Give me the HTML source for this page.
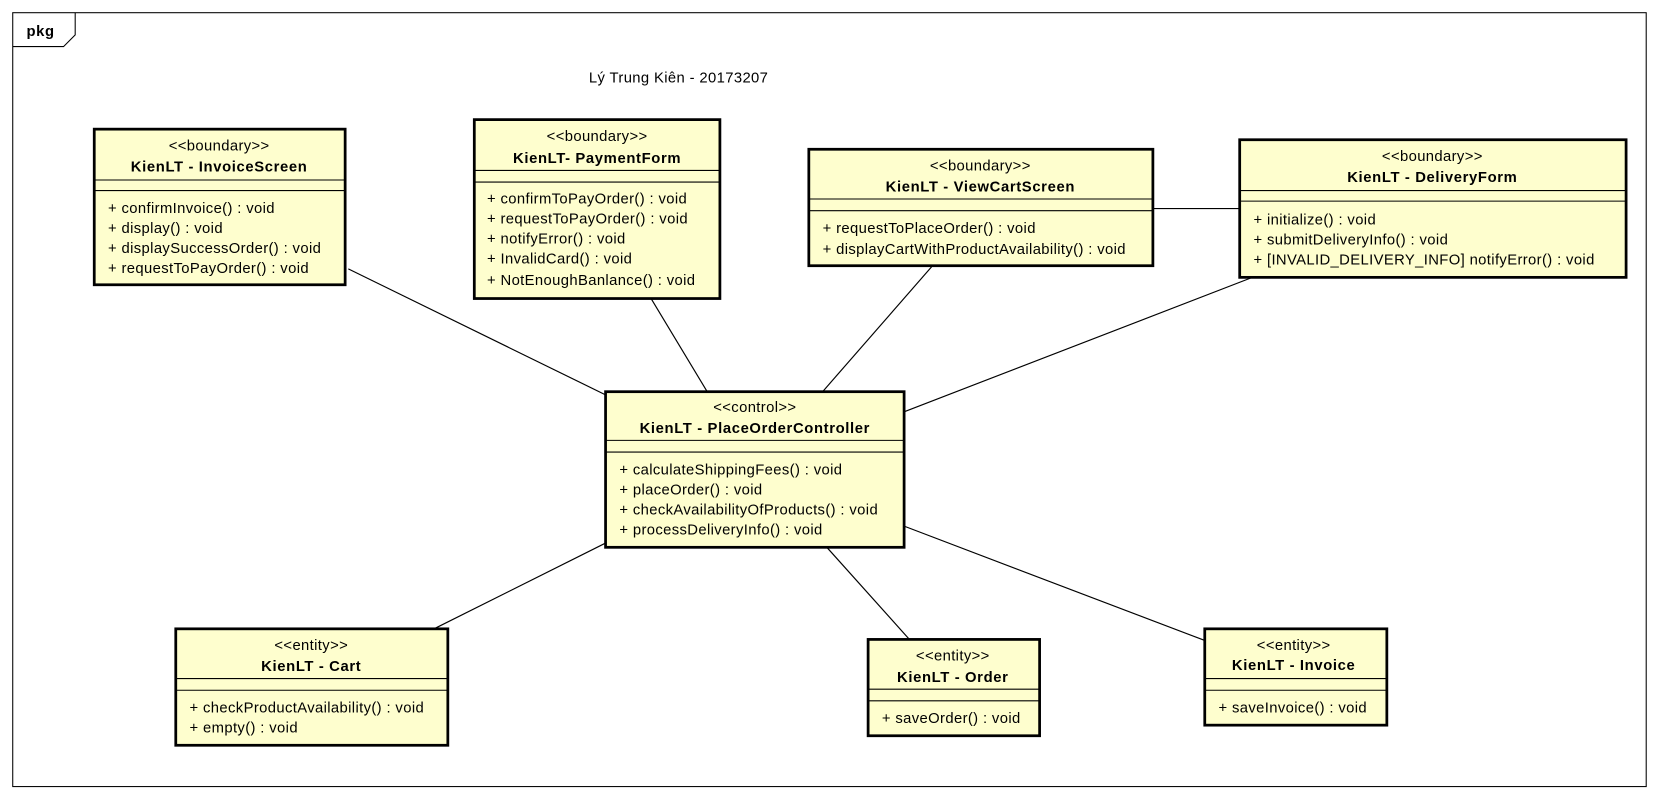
<!DOCTYPE html>
<html><head><meta charset="utf-8"><style>
html,body{margin:0;padding:0;background:#fff}
svg{display:block}
text{font-family:"Liberation Sans","Noto Sans CJK SC",sans-serif;font-size:14px;letter-spacing:0.35px;fill:#000}
.b{font-weight:bold;letter-spacing:0.6px}
.box{fill:#fefece;stroke:#000;stroke-width:2.6}
.sep{stroke:#000;stroke-width:1}
.ln{stroke:#000;stroke-width:1.1}
</style></head><body>
<svg width="1660" height="798" viewBox="0 0 1568 753.8" xmlns="http://www.w3.org/2000/svg">
<rect x="0" y="0" width="1568" height="754" fill="#fff"/>
<rect x="12" y="12" width="1543" height="731" fill="none" stroke="#000" stroke-width="1"/>
<polyline points="12,44 60,44 71,33 71,12" fill="none" stroke="#000" stroke-width="1"/>
<text x="25" y="34" class="b">pkg</text>
<text x="641" y="78" text-anchor="middle">Lý Trung Kiên - 20173207</text>

<g class="ln">
<line x1="329" y1="254" x2="572" y2="373"/>
<line x1="615" y1="282" x2="668" y2="370"/>
<line x1="880" y1="252" x2="777" y2="370"/>
<line x1="1089" y1="197" x2="1171" y2="197"/>
<line x1="1183" y1="262" x2="854" y2="389"/>
<line x1="572" y1="513" x2="410" y2="594"/>
<line x1="781" y1="517" x2="859" y2="604"/>
<line x1="854" y1="497" x2="1138" y2="605"/>
</g>

<!-- InvoiceScreen -->
<rect class="box" x="89" y="122" width="237" height="147"/>
<line class="sep" x1="89" y1="170" x2="326" y2="170"/><line class="sep" x1="89" y1="180" x2="326" y2="180"/>
<text x="207" y="142" text-anchor="middle">&lt;&lt;boundary&gt;&gt;</text>
<text x="207" y="162" text-anchor="middle" class="b">KienLT - InvoiceScreen</text>
<text x="102" y="201">+ confirmInvoice() : void</text>
<text x="102" y="220">+ display() : void</text>
<text x="102" y="239">+ displaySuccessOrder() : void</text>
<text x="102" y="258">+ requestToPayOrder() : void</text>

<!-- PaymentForm -->
<rect class="box" x="448" y="113" width="232" height="169"/>
<line class="sep" x1="448" y1="161" x2="680" y2="161"/><line class="sep" x1="448" y1="172" x2="680" y2="172"/>
<text x="564" y="133" text-anchor="middle">&lt;&lt;boundary&gt;&gt;</text>
<text x="564" y="154" text-anchor="middle" class="b">KienLT- PaymentForm</text>
<text x="460" y="192">+ confirmToPayOrder() : void</text>
<text x="460" y="211">+ requestToPayOrder() : void</text>
<text x="460" y="230">+ notifyError() : void</text>
<text x="460" y="249">+ InvalidCard() : void</text>
<text x="460" y="269">+ NotEnoughBanlance() : void</text>

<!-- ViewCartScreen -->
<rect class="box" x="764" y="141" width="325" height="110"/>
<line class="sep" x1="764" y1="188" x2="1089" y2="188"/><line class="sep" x1="764" y1="199" x2="1089" y2="199"/>
<text x="926" y="161" text-anchor="middle">&lt;&lt;boundary&gt;&gt;</text>
<text x="926" y="181" text-anchor="middle" class="b">KienLT - ViewCartScreen</text>
<text x="777" y="220">+ requestToPlaceOrder() : void</text>
<text x="777" y="240">+ displayCartWithProductAvailability() : void</text>

<!-- DeliveryForm -->
<rect class="box" x="1171" y="132" width="365" height="130"/>
<line class="sep" x1="1171" y1="180" x2="1536" y2="180"/><line class="sep" x1="1171" y1="190" x2="1536" y2="190"/>
<text x="1353" y="152" text-anchor="middle">&lt;&lt;boundary&gt;&gt;</text>
<text x="1353" y="172" text-anchor="middle" class="b">KienLT - DeliveryForm</text>
<text x="1184" y="212">+ initialize() : void</text>
<text x="1184" y="231">+ submitDeliveryInfo() : void</text>
<text x="1184" y="250">+ [INVALID_DELIVERY_INFO] notifyError() : void</text>

<!-- PlaceOrderController -->
<rect class="box" x="572" y="370" width="282" height="147"/>
<line class="sep" x1="572" y1="416" x2="854" y2="416"/><line class="sep" x1="572" y1="427" x2="854" y2="427"/>
<text x="713" y="389" text-anchor="middle">&lt;&lt;control&gt;&gt;</text>
<text x="713" y="409" text-anchor="middle" class="b">KienLT - PlaceOrderController</text>
<text x="585" y="448">+ calculateShippingFees() : void</text>
<text x="585" y="467">+ placeOrder() : void</text>
<text x="585" y="486">+ checkAvailabilityOfProducts() : void</text>
<text x="585" y="505">+ processDeliveryInfo() : void</text>

<!-- Cart -->
<rect class="box" x="166" y="594" width="257" height="110"/>
<line class="sep" x1="166" y1="641" x2="423" y2="641"/><line class="sep" x1="166" y1="652" x2="423" y2="652"/>
<text x="294" y="614" text-anchor="middle">&lt;&lt;entity&gt;&gt;</text>
<text x="294" y="634" text-anchor="middle" class="b">KienLT - Cart</text>
<text x="179" y="673">+ checkProductAvailability() : void</text>
<text x="179" y="692">+ empty() : void</text>

<!-- Order -->
<rect class="box" x="820" y="604" width="162" height="91"/>
<line class="sep" x1="820" y1="651" x2="982" y2="651"/><line class="sep" x1="820" y1="662" x2="982" y2="662"/>
<text x="900" y="624" text-anchor="middle">&lt;&lt;entity&gt;&gt;</text>
<text x="900" y="644" text-anchor="middle" class="b">KienLT - Order</text>
<text x="833" y="683">+ saveOrder() : void</text>

<!-- Invoice -->
<rect class="box" x="1138" y="594" width="172" height="91"/>
<line class="sep" x1="1138" y1="641" x2="1310" y2="641"/><line class="sep" x1="1138" y1="652" x2="1310" y2="652"/>
<text x="1222" y="614" text-anchor="middle">&lt;&lt;entity&gt;&gt;</text>
<text x="1222" y="633" text-anchor="middle" class="b">KienLT - Invoice</text>
<text x="1151" y="673">+ saveInvoice() : void</text>
</svg>
</body></html>
